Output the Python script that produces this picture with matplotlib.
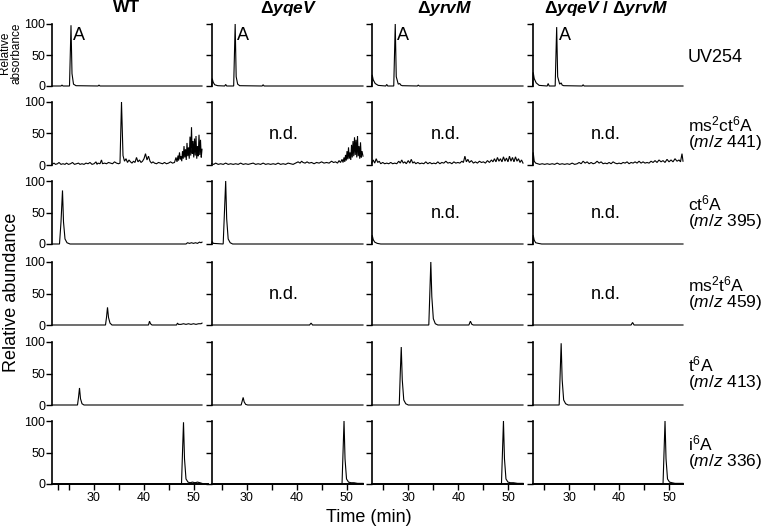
import matplotlib
matplotlib.use('Agg')
import matplotlib.pyplot as plt

plt.rcParams['font.family'] = ['Liberation Sans', 'DejaVu Sans']
plt.rcParams['mathtext.fontset'] = 'custom'
plt.rcParams['mathtext.rm'] = 'Liberation Sans'
plt.rcParams['mathtext.it'] = 'Liberation Sans:italic'
plt.rcParams['mathtext.bf'] = 'Liberation Sans:bold'
plt.rcParams['mathtext.bfit'] = 'Liberation Sans:italic:bold'

# ---------------- data: (time [min], relative intensity [%]) ----------------
strains = [r'WT', r'$\mathbf{\Delta}\mathbfit{yqeV}$', r'$\mathbf{\Delta}\mathbfit{yrvM}$',
           r'$\mathbf{\Delta}\mathbfit{yqeV}$ / $\mathbf{\Delta}\mathbfit{yrvM}$']
row_names = [('UV254', None), (r'ms$^2$ct$^6$A', r'($\mathit{m/z}$ 441)'),
             (r'ct$^6$A', r'($\mathit{m/z}$ 395)'), (r'ms$^2$t$^6$A', r'($\mathit{m/z}$ 459)'),
             (r't$^6$A', r'($\mathit{m/z}$ 413)'), (r'i$^6$A', r'($\mathit{m/z}$ 336)')]
nd_panels = [(1, 1), (1, 2), (1, 3), (2, 2), (2, 3), (3, 1), (3, 3)]
peak_A = [25.5, 27.7, 27.4, 27.5]

# Row 1: UV254
uv_wt = [(21.7, 0), (23.5, 0), (23.7, 1.5), (23.9, 0), (25.2, 0), (25.5, 98), (25.7, 20), (26.0, 3),
         (26.5, 0.5), (30.9, 0), (31.1, 1.5), (31.3, 0), (51.7, 0)]
uv_yqeV = [(23.0, 0), (23.1, 12), (23.3, 6), (23.6, 2), (24.2, 0.5), (25.6, 0), (25.8, 2.5), (26.0, 0),
           (27.4, 0), (27.7, 100), (27.9, 15), (28.2, 3), (28.6, 0.5), (33.1, 0), (33.3, 2), (33.5, 0), (53.3, 0)]
uv_yrvM = [(22.7, 0), (22.8, 18), (23.0, 10), (23.4, 4), (24.0, 1), (25.5, 0), (25.7, 2.5), (25.9, 0),
           (27.1, 0), (27.4, 100), (27.6, 15), (28.0, 3), (28.3, 4), (28.5, 1.5), (28.8, 0.5), (31.8, 0),
           (32.0, 1.5), (32.2, 0), (52.9, 0)]
uv_dbl = [(22.7, 0), (22.8, 22), (23.0, 12), (23.4, 5), (24.0, 1), (25.6, 0), (25.8, 4), (26.0, 0),
          (27.2, 0), (27.5, 95), (27.7, 15), (28.1, 3), (28.4, 5), (28.6, 1.5), (28.9, 0.5), (32.6, 0),
          (32.8, 2), (33.0, 0), (52.8, 0)]

# Row 2: ms2ct6A (m/z 441)
m441_wt = [(21.7, 1), (22.1, 3), (22.4, 1), (22.8, 2), (23.1, 4), (23.5, 1), (23.9, 2), (24.3, 1), (24.6, 3),
           (25.0, 1), (25.4, 2), (25.8, 4), (26.2, 1), (26.6, 2), (27.0, 3), (27.3, 1), (27.7, 2), (28.1, 1),
           (28.5, 3), (28.9, 2), (29.3, 4), (29.7, 1), (30.1, 2), (30.5, 5), (30.7, 1), (30.9, 3), (31.3, 2),
           (31.6, 8), (31.8, 2), (32.2, 3), (32.6, 2), (33.0, 4), (33.4, 3), (33.8, 2), (34.2, 5), (34.6, 3),
           (35.0, 2), (35.3, 3), (35.6, 100), (35.9, 15), (36.2, 6), (36.5, 10), (36.8, 4), (37.1, 8),
           (37.4, 5), (37.7, 3), (38.0, 6), (38.3, 4), (38.6, 12), (38.9, 5), (39.2, 8), (39.5, 4), (39.8, 6),
           (40.1, 10), (40.4, 18), (40.7, 8), (41.0, 14), (41.3, 6), (41.6, 3), (41.9, 5), (42.2, 3), (42.6, 2),
           (43.0, 4), (43.4, 3), (43.8, 2), (44.2, 4), (44.6, 2), (45.0, 3), (45.4, 5), (45.8, 3), (46.2, 4),
           (46.5, 12), (46.7, 5), (46.9, 15), (47.0, 7), (47.2, 20), (47.35, 9), (47.5, 14), (47.65, 6),
           (47.8, 22), (47.95, 10), (48.1, 30), (48.25, 12), (48.4, 25), (48.55, 8), (48.7, 35), (48.85, 14),
           (49.0, 28), (49.15, 10), (49.3, 45), (49.45, 15), (49.6, 60), (49.75, 18), (49.9, 38), (50.05, 12),
           (50.2, 42), (50.35, 15), (50.5, 46), (50.65, 10), (50.8, 30), (50.95, 14), (51.1, 48), (51.25, 16),
           (51.4, 40), (51.55, 12), (51.7, 25)]
m441_yqeV = [(23.0, 2), (23.4, 1), (23.8, 3), (24.3, 1), (24.8, 2), (25.3, 1), (25.8, 3), (26.3, 1), (26.8, 2),
             (27.3, 1), (27.8, 2), (28.3, 1), (28.8, 3), (29.3, 1), (29.8, 2), (30.3, 1), (30.8, 2), (31.3, 3),
             (31.8, 1), (32.3, 2), (32.8, 1), (33.3, 3), (33.8, 1), (34.3, 2), (34.8, 1), (35.3, 2), (35.8, 1),
             (36.3, 3), (36.8, 1), (37.3, 2), (37.8, 1), (38.3, 3), (38.8, 2), (39.3, 1), (39.8, 3), (40.3, 5),
             (40.7, 3), (41.0, 6), (41.3, 4), (41.7, 3), (42.1, 5), (42.5, 3), (43.0, 4), (43.5, 2), (44.0, 4),
             (44.5, 3), (45.0, 5), (45.5, 3), (46.0, 4), (46.5, 3), (47.0, 6), (47.4, 4), (47.8, 5), (48.2, 3),
             (48.5, 7), (48.8, 4), (49.1, 9), (49.3, 4), (49.5, 12), (49.65, 5), (49.8, 16), (49.95, 7),
             (50.1, 22), (50.25, 9), (50.4, 28), (50.55, 10), (50.7, 20), (50.85, 8), (51.0, 32), (51.15, 12),
             (51.3, 38), (51.45, 14), (51.6, 44), (51.75, 16), (51.9, 40), (52.05, 12), (52.2, 46), (52.35, 14),
             (52.5, 30), (52.65, 10), (52.8, 36), (52.95, 12), (53.1, 22), (53.3, 14)]
m441_yrvM = [(22.7, 3), (23.0, 8), (23.3, 3), (23.6, 10), (23.9, 4), (24.2, 6), (24.5, 2), (24.9, 4), (25.3, 2),
             (25.7, 3), (26.1, 2), (26.5, 4), (26.9, 2), (27.3, 3), (27.7, 2), (28.1, 6), (28.4, 3), (28.7, 8),
             (29.0, 3), (29.3, 5), (29.6, 2), (30.0, 7), (30.3, 3), (30.6, 9), (30.9, 3), (31.2, 5), (31.5, 2),
             (31.9, 4), (32.3, 2), (32.7, 3), (33.1, 2), (33.5, 5), (33.9, 2), (34.3, 4), (34.7, 2), (35.1, 3),
             (35.5, 2), (35.9, 5), (36.3, 2), (36.7, 4), (37.1, 3), (37.5, 6), (37.9, 3), (38.3, 4), (38.7, 2),
             (39.1, 5), (39.5, 3), (39.9, 4), (40.3, 3), (40.7, 6), (41.0, 4), (41.3, 14), (41.6, 5), (41.9, 9),
             (42.2, 4), (42.6, 7), (43.0, 3), (43.4, 5), (43.8, 3), (44.2, 6), (44.6, 4), (45.0, 5), (45.4, 3),
             (45.8, 7), (46.2, 4), (46.6, 8), (46.9, 5), (47.2, 10), (47.5, 5), (47.8, 12), (48.1, 6), (48.4, 10),
             (48.7, 5), (49.0, 13), (49.3, 6), (49.6, 11), (49.9, 5), (50.2, 14), (50.5, 6), (50.8, 12),
             (51.1, 5), (51.4, 13), (51.7, 6), (52.0, 10), (52.3, 4), (52.6, 8), (52.9, 3)]
m441_dbl = [(22.7, 0), (22.8, 20), (23.0, 6), (23.3, 3), (23.7, 2), (24.1, 1), (24.6, 2), (25.1, 1), (25.6, 2),
            (26.1, 1), (26.6, 2), (27.1, 1), (27.6, 3), (28.1, 1), (28.6, 2), (29.1, 1), (29.6, 2), (30.1, 1),
            (30.6, 3), (31.1, 1), (31.6, 2), (32.0, 4), (32.4, 2), (32.8, 6), (33.2, 3), (33.6, 5), (34.0, 2),
            (34.4, 4), (34.8, 2), (35.2, 3), (35.6, 6), (36.0, 3), (36.4, 5), (36.8, 2), (37.2, 3), (37.6, 2),
            (38.0, 4), (38.4, 2), (38.8, 5), (39.2, 3), (39.6, 2), (40.0, 3), (40.4, 2), (40.8, 4), (41.2, 3),
            (41.6, 5), (42.0, 2), (42.4, 4), (42.8, 3), (43.2, 5), (43.6, 3), (44.0, 6), (44.4, 3), (44.8, 5),
            (45.2, 3), (45.6, 4), (46.0, 3), (46.4, 6), (46.8, 4), (47.2, 7), (47.6, 4), (48.0, 8), (48.4, 5),
            (48.8, 7), (49.2, 4), (49.6, 9), (50.0, 5), (50.4, 8), (50.8, 5), (51.2, 10), (51.6, 6), (52.0, 8),
            (52.3, 5), (52.6, 18), (52.8, 6)]

# Row 3: ct6A (m/z 395)
m395_wt = [(21.7, 0), (23.2, 0), (23.5, 35), (23.8, 85), (24.0, 35), (24.3, 8), (24.7, 2), (25.3, 0), (48.5, 0),
           (48.8, 2), (49.2, 1), (49.6, 2), (50.0, 1), (50.4, 2), (50.8, 1), (51.2, 3), (51.5, 2), (51.7, 3)]
m395_yqeV = [(23.0, 0), (23.1, 4), (23.3, 1), (25.3, 0), (25.6, 60), (25.8, 100), (26.0, 40), (26.3, 8),
             (26.7, 2), (27.2, 0), (53.3, 0)]
m395_yrvM = [(22.7, 0), (22.8, 14), (23.0, 7), (23.3, 3), (23.8, 1), (24.5, 0), (52.9, 0)]
m395_dbl = [(22.7, 0), (22.8, 14), (23.0, 6), (23.3, 2), (23.8, 1), (24.5, 0), (52.8, 0)]

# Row 4: ms2t6A (m/z 459)
m459_wt = [(21.7, 0), (32.4, 0), (32.6, 12), (32.8, 28), (33.0, 12), (33.3, 3), (33.7, 0), (41.0, 0),
           (41.2, 6), (41.4, 2), (41.7, 0), (46.6, 0), (46.8, 3), (47.0, 1), (47.5, 1), (48.0, 2), (48.5, 1),
           (49.0, 2), (49.5, 1), (50.0, 2), (50.5, 1), (51.0, 2), (51.5, 2), (51.7, 3)]
m459_yqeV = [(23.0, 0), (42.6, 0), (42.9, 3), (43.2, 0), (53.3, 0)]
m459_yrvM = [(22.7, 0), (34.1, 0), (34.3, 50), (34.5, 100), (34.7, 45), (35.0, 10), (35.4, 2), (35.9, 0),
             (42.1, 0), (42.4, 6), (42.7, 1), (43.0, 0), (52.9, 0)]
m459_dbl = [(22.7, 0), (42.4, 0), (42.7, 4), (43.0, 0), (52.8, 0)]

# Row 5: t6A (m/z 413)
m413_wt = [(21.7, 0), (26.8, 0), (27.0, 12), (27.2, 27), (27.4, 10), (27.7, 2), (28.1, 0), (51.7, 0)]
m413_yqeV = [(23.0, 0), (28.9, 0), (29.1, 6), (29.3, 12), (29.5, 5), (29.8, 1), (30.2, 0), (53.3, 0)]
m413_yrvM = [(22.7, 0), (28.2, 0), (28.4, 50), (28.6, 92), (28.8, 40), (29.1, 8), (29.5, 2), (30.0, 0), (52.9, 0)]
m413_dbl = [(22.7, 0), (28.0, 0), (28.2, 50), (28.4, 98), (28.6, 40), (28.9, 8), (29.3, 2), (29.8, 0), (52.8, 0)]

# Row 6: i6A (m/z 336)
m336_wt = [(21.7, 0), (47.6, 0), (47.8, 50), (48.0, 98), (48.2, 40), (48.5, 8), (48.9, 3), (49.3, 2),
           (49.8, 3), (50.3, 2), (50.8, 3), (51.3, 2), (51.7, 1)]
m336_yqeV = [(23.0, 0), (49.1, 0), (49.3, 50), (49.5, 100), (49.7, 40), (50.0, 8), (50.4, 3), (50.9, 2),
             (51.5, 2), (52.2, 1), (53.3, 1)]
m336_yrvM = [(22.7, 0), (48.6, 0), (48.8, 50), (49.0, 100), (49.2, 40), (49.5, 8), (49.9, 3), (50.4, 2),
             (51.0, 2), (51.8, 1), (52.9, 1)]
m336_dbl = [(22.7, 0), (48.8, 0), (49.0, 50), (49.2, 100), (49.4, 40), (49.7, 8), (50.1, 3), (50.6, 2),
            (51.2, 1), (52.8, 1)]

traces = [[uv_wt, uv_yqeV, uv_yrvM, uv_dbl],
          [m441_wt, m441_yqeV, m441_yrvM, m441_dbl],
          [m395_wt, m395_yqeV, m395_yrvM, m395_dbl],
          [m459_wt, m459_yqeV, m459_yrvM, m459_dbl],
          [m413_wt, m413_yqeV, m413_yrvM, m413_dbl],
          [m336_wt, m336_yqeV, m336_yrvM, m336_dbl]]

y_ticks = [0, 50, 100]
x_ticks = [25, 30, 35, 40, 45, 50]
x_ticklabels = ['', '30', '', '40', '', '50']

# ---------------- layout ----------------
W, H = 765, 528
fig = plt.figure(figsize=(W / 100, H / 100), dpi=100)

col_px = [(52, 208), (211.7, 363), (371.7, 523), (532.7, 683)]
row_px = [(24, 86), (102, 165), (181, 244), (262, 325), (342, 405), (421, 484)]
xlims = [(21.7, 52.9), (23.0, 53.3), (22.7, 52.9), (22.7, 52.8)]

for r in range(6):
    for c in range(4):
        x0, x1 = col_px[c]
        yt, yb = row_px[r]
        ax = fig.add_axes([x0 / W, 1 - yb / H, (x1 - x0) / W, (yb - yt) / H])
        ax.patch.set_alpha(0)
        t = [p[0] for p in traces[r][c]]
        v = [p[1] for p in traces[r][c]]
        ax.plot(t, v, color='black', lw=0.8, clip_on=False, solid_joinstyle='miter')
        ax.set_xlim(*xlims[c])
        ax.set_ylim(0, 100)
        ax.spines['top'].set_visible(False)
        ax.spines['right'].set_visible(False)
        ax.spines['left'].set_linewidth(1.2)
        ax.set_yticks(y_ticks)
        if c > 0:
            ax.set_yticklabels([])
        ax.tick_params(axis='y', length=4, width=1, labelsize=9, pad=1)
        if r < 5:
            ax.spines['bottom'].set_visible(False)
            ax.set_xticks([])
        else:
            ax.spines['bottom'].set_linewidth(1.4)
            if c == 0:
                ax.set_xticks([23] + x_ticks)
                ax.set_xticklabels([''] + x_ticklabels)
            else:
                ax.set_xticks(x_ticks)
                ax.set_xticklabels(x_ticklabels)
            ax.tick_params(axis='x', length=4, width=1, labelsize=9, pad=2)
        if r == 0:
            ax.text(peak_A[c] + 0.4, 82, 'A', fontsize=13, ha='left', va='center')
        if (r, c) in nd_panels:
            ax.text(37.4, 48, 'n.d.', fontsize=13, ha='center', va='center')

# column titles
title_x = [127, 289, 445, 606]
for c in range(4):
    fig.text(title_x[c] / W, 1 - 8 / H, strains[c], fontsize=12.5, fontweight='bold',
             ha='center', va='center')

# row labels on the right
for r in range(6):
    y0 = row_px[r][1]
    l1, l2 = row_names[r]
    if l2 is None:
        fig.text(688 / W, 1 - (y0 - 24) / H, l1, fontsize=13, ha='left', va='baseline')
    else:
        fig.text(688 / W, 1 - (y0 - 34) / H, l1, fontsize=12.5, ha='left', va='baseline')
        fig.text(688 / W, 1 - (y0 - 18) / H, l2, fontsize=12.5, ha='left', va='baseline')

fig.text(10.5 / W, 1 - 53 / H, 'Relative\nabsorbance', fontsize=8.5, rotation=90,
         ha='center', va='center', linespacing=0.95)
fig.text(12 / W, 1 - 292 / H, 'Relative abundance', fontsize=13, rotation=90, ha='center', va='center')
fig.text(369 / W, 1 - 517 / H, 'Time (min)', fontsize=13, ha='center', va='center')

fig.savefig('out.png', dpi=100)
